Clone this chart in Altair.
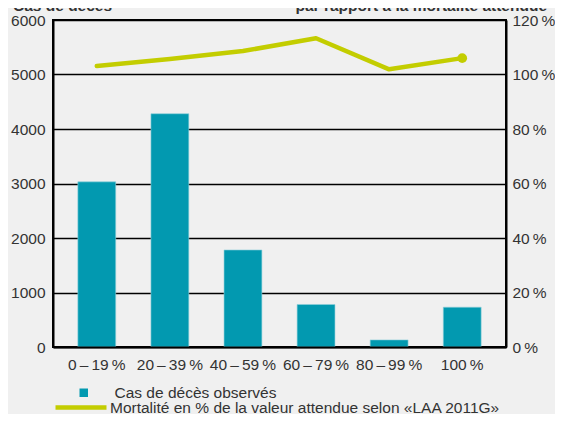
import altair as alt
import pandas as pd

# ---- data ----
categories = ["0\u2009\u2013\u200919\u2009%", "20\u2009\u2013\u200939\u2009%", "40\u2009\u2013\u200959\u2009%",
              "60\u2009\u2013\u200979\u2009%", "80\u2009\u2013\u200999\u2009%", "100\u2009%"]
deaths = [3030, 4280, 1780, 780, 130, 730]
mortality = [103.1, 105.7, 108.6, 113.3, 101.9, 106.0]
left_ticks = [0, 1000, 2000, 3000, 4000, 5000, 6000]
right_ticks = [0, 20, 40, 60, 80, 100, 120]
legend_bar = "Cas de décès observés"
legend_line = "Mortalité en % de la valeur attendue selon «LAA 2011G»"
title_left = "Cas de décès"
title_right = "par rapport à la mortalité attendue"

df = pd.DataFrame({"cat": categories, "deaths": deaths, "mort": mortality,
                   "s1": legend_bar, "s2": legend_line})

FONT = "Liberation Sans"
TXT = "#333333"
BAR = "#0299b0"
LINE = "#c3cd00"
FS = 15.5

x = alt.X("cat:N", sort=categories,
          scale=alt.Scale(paddingInner=0.482, paddingOuter=0.34),
          axis=alt.Axis(title=None, labelAngle=0, ticks=False, domain=True,
                        domainColor="black", domainWidth=2, labelPadding=10,
                        zindex=1, labelFontSize=FS, labelColor=TXT, labelFont=FONT))

bars = alt.Chart(df).mark_bar(stroke="#8fd0da", strokeWidth=0.6).encode(
    x=x,
    y=alt.Y("deaths:Q", scale=alt.Scale(domain=[0, 6000], nice=False),
            axis=alt.Axis(values=left_ticks, title=None, grid=True, gridColor="black",
                          gridWidth=1.6, ticks=False, domainColor="black", domainWidth=2,
                          labelPadding=8, format="d", labelFontSize=FS,
                          labelColor=TXT, labelFont=FONT)),
    fill=alt.Fill("s1:N", scale=alt.Scale(domain=[legend_bar], range=[BAR]),
                  legend=alt.Legend(title=None, orient="none", legendX=23, legendY=365,
                                    symbolType="square", symbolSize=72, symbolStrokeWidth=0,
                                    labelOffset=23, labelFontSize=FS, labelFont=FONT,
                                    labelColor=TXT, labelLimit=600, padding=0)),
)

line = alt.Chart(df).mark_line(strokeWidth=4.5, strokeCap="round", strokeJoin="round").encode(
    x=x,
    y=alt.Y("mort:Q", scale=alt.Scale(domain=[0, 120], nice=False),
            axis=alt.Axis(orient="right", values=right_ticks, title=None, grid=False,
                          ticks=False, domainColor="black", domainWidth=2, labelPadding=6,
                          labelExpr="datum.value + '\u2009%'", labelFontSize=FS,
                          labelColor=TXT, labelFont=FONT)),
    stroke=alt.Stroke("s2:N", scale=alt.Scale(domain=[legend_line], range=[LINE]),
                      legend=alt.Legend(title=None, orient="none", legendX=0, legendY=359.5,
                                        symbolType="stroke", symbolSize=2601,
                                        symbolStrokeWidth=4.5, labelOffset=1,
                                        labelFontSize=FS, labelFont=FONT,
                                        labelColor=TXT, labelLimit=600, padding=0)),
)

dot = alt.Chart(df).transform_filter(
    alt.datum.cat == categories[-1]
).mark_circle(size=95, color=LINE, opacity=1).encode(
    x=x,
    y=alt.Y("mort:Q", scale=alt.Scale(domain=[0, 120], nice=False), axis=None),
)

t1 = alt.Chart(pd.DataFrame({"t": [title_left]})).mark_text(
    align="left", baseline="alphabetic", font=FONT, fontSize=FS, fontWeight="bold", color=TXT
).encode(text="t:N", x=alt.value(-40), y=alt.value(-9))

t2 = alt.Chart(pd.DataFrame({"t": [title_right]})).mark_text(
    align="right", baseline="alphabetic", font=FONT, fontSize=FS, fontWeight="bold", color=TXT
).encode(text="t:N", x=alt.value(494), y=alt.value(-9))

chart = alt.layer(bars, line, dot, t1, t2).resolve_scale(
    y="independent", fill="independent", stroke="independent"
).properties(
    width=453, height=327,
    autosize=alt.AutoSizeParams(type="none"),
    padding={"left": 45, "top": 12, "right": 49, "bottom": 67},
    background="#f0f0f0",
).configure_view(stroke="black", strokeWidth=2)

chart.save("out.html", embed_options={"renderer": "svg", "actions": False})
